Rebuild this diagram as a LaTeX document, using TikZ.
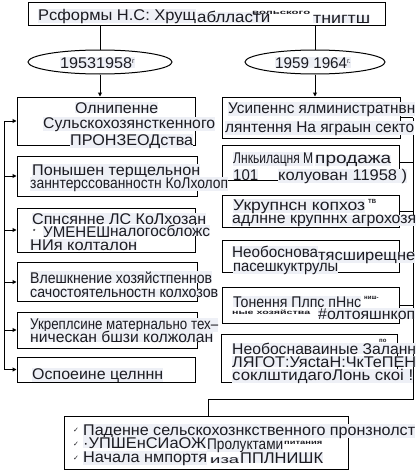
\documentclass[tikz,border=0pt]{standalone}
\usepackage{fontspec}
\setmainfont{Liberation Sans}
\newfontfamily\symfont{DejaVu Sans}
\usetikzlibrary{arrows.meta,shapes.geometric}
\definecolor{ink}{RGB}{28,28,34}
\definecolor{shade}{RGB}{238,240,246}
\newcommand{\fw}[2]{\resizebox{#1pt}{\height}{#2}}

\begin{document}
\begin{tikzpicture}[x=1pt,y=-1pt,
		box/.style={draw,line width=1pt,inner sep=0pt},
		oval/.style={draw,ellipse,line width=1pt,inner sep=0pt},
		ln/.style={fill=shade,text=ink,inner sep=0pt,anchor=base west,font=\fontsize{15.5}{15.5}\selectfont},
		tiny/.style={text=ink,inner sep=0pt,anchor=base west,font=\fontsize{6}{6}\selectfont\bfseries},
		chk/.style={text=ink,inner sep=0pt,anchor=base west,font=\symfont\fontsize{7}{7}\selectfont},
		link/.style={line width=1pt},
		arr/.style={line width=1pt,-{Triangle[open,length=4pt,width=4pt]}}]
	\useasboundingbox (0,0) rectangle (418,471);
	\node[box,minimum width=357,minimum height=23] (title) at (206.5,13.5) {};
	\node[oval,minimum width=144,minimum height=24] (e1) at (100,62) {};
	\node[oval,minimum width=140,minimum height=24] (e2) at (315,62) {};
	\node[box,minimum width=178,minimum height=48] (l1) at (106,121) {};
	\node[box,minimum width=180,minimum height=40] (l2) at (107,176) {};
	\node[box,minimum width=178,minimum height=44] (l3) at (106,230) {};
	\node[box,minimum width=180,minimum height=39] (l4) at (107,282) {};
	\node[box,minimum width=180,minimum height=36] (l5) at (107,330) {};
	\node[box,minimum width=178,minimum height=25] (l6) at (106,369.5) {};
	\node[box,minimum width=178,minimum height=41] (r1) at (311,117.5) {};
	\node[box,minimum width=177,minimum height=35] (r2) at (310.5,162.5) {};
	\node[box,minimum width=177,minimum height=32] (r3) at (310.5,211) {};
	\node[box,minimum width=177,minimum height=32] (r4) at (310.5,256) {};
	\node[box,minimum width=177,minimum height=36] (r5) at (310.5,305) {};
	\node[box,minimum width=176,minimum height=48] (r6) at (309,358) {};
	\node[box,minimum width=284,minimum height=53] (res) at (206,442.5) {};
	\coordinate (ltop) at (4,121);
	\coordinate (lbot) at (4,369.5);
	\coordinate (rtop) at (413,117.5);
	\coordinate (rturn) at (413,399);
	\coordinate (rbend) at (208,399);
	\draw[link] (e1.north |- title.south) -- (e1.north);
	\draw[link] (e2.north |- title.south) -- (e2.north);
	\draw[arr] (e1.south) -- (l1.north -| e1.south);
	\draw[arr] (e2.south) -- (r1.north -| e2.south);
	\draw[link] (ltop) -- (lbot);
	\foreach \b in {l1,l2,l3,l4,l5,l6}
		\draw[arr] (ltop |- \b.west) -- (\b.west);
	\draw[link] (rtop) -- (rturn) -- (rbend) -- (rbend |- res.north);
	\foreach \b in {r1,r2,r3,r4,r5}
		\draw[link] (\b.east) -- (rtop |- \b.east);
	\node[ln] (ta) at (38,20) {\fw{158}{Рсформы Н.С: Хрущ}};
	\node[ln] (tb) at (197,23) {\fw{73}{аблласти}};
	\node[tiny] (tc) at (252,14) {\fw{58}{вольского}};
	\node[ln] (td) at (313,23) {\fw{57}{тнигтш}};
	\node[ln] (ya) at (60,68) {\fw{72}{19531958}\raisebox{5pt}{\fontsize{7}{7}\selectfont г}};
	\node[ln] (yb) at (275,68) {\fw{72}{1959 1964}\raisebox{5pt}{\fontsize{7}{7}\selectfont г.}};
	\node[ln] (a1) at (75,113) {\fw{83}{Олнипенне}};
	\node[ln] (a2) at (43,128) {\fw{172}{Сульскохозянсткенного}};
	\node[ln] (a3) at (70,145) {\fw{123}{ПРОНЗЕОДства}};
	\node[ln] (b1) at (32,175) {\fw{168}{Понышен терщельнон}};
	\node[ln] (b2) at (30,188) {\fw{198}{заннтерссованностн КоЛхолоп}};
	\node[ln] (c1) at (32,224) {\fw{174}{Спнсянне ЛС КоЛхозан}};
	\node[tiny] (c2) at (33,233) {*};
	\node[ln] (c3) at (43,237) {\fw{67}{УМЕНЕШ}};
	\node[ln] (c4) at (110,236) {\fw{100}{налогосбложс}};
	\node[ln] (c5) at (30,250) {\fw{107}{НИя колталон}};
	\node[ln] (d1) at (30,283) {\fw{182}{Влешкнение хозяйстпеннов}};
	\node[ln] (d2) at (30,297) {\fw{188}{сачостоятельностн колхозов}};
	\node[ln] (f1) at (30,329) {\fw{188}{Укреплсине матернально тех–}};
	\node[ln] (f2) at (30,342) {\fw{183}{ническан бшзи колжолан}};
	\node[ln] (g1) at (32,379) {\fw{131}{Оспоеине целннн}};
	\node[ln] (h1) at (228,113) {\fw{187}{Усипеннс ялминистратнвн}};
	\node[ln] (h2) at (225,132) {\fw{189}{лянтення На яграын секто}};
	\node[ln] (i1) at (233,163) {\fw{80}{Лнкьилацня М}};
	\node[ln] (i2) at (315,163) {\fw{76}{продажа}};
	\node[ln] (i3) at (233,180) {\fw{25}{101}};
	\node[ln] (i4) at (278,180) {\fw{129}{колуован 11958 )}};
	\node[ln] (j1) at (233,210) {\fw{132}{Укрупнсн копхоз}};
	\node[tiny] (j2) at (368,203) {ТВ};
	\node[ln] (j3) at (232,223) {\fw{184}{адлнне крупннх агрохозя}};
	\node[ln] (k1) at (232,257) {\fw{86}{Необоснова}};
	\node[ln] (k2) at (318,260) {\fw{97}{тясширещне}};
	\node[ln] (k3) at (233,271) {\fw{105}{пасешкуктрулы}};
	\node[ln] (m1) at (233,307) {\fw{128}{Тонення Плпс пНнс}};
	\node[tiny] (m2) at (364,299) {ниш-};
	\node[tiny] (m3) at (232,314) {\fw{78}{ные хозяйства}};
	\node[ln] (m4) at (318,319) {\fw{97}{\#олтояшнкоп}};
	\node[ln] (n1) at (232,354) {\fw{184}{Необоснаваиные Заланн}};
	\node[tiny] (n2) at (379,342) {по};
	\node[ln] (n3) at (232,367) {\fw{184}{ЛЯГОТ:УясtаН:ЧкТеПЕН}};
	\node[ln] (n4) at (232,380) {\fw{181}{соклштидагоЛонь скоі !}};
	\node[chk] (q1) at (73,432) {✓};
	\node[chk] (q2) at (73,446) {✓};
	\node[chk] (q3) at (73,460) {✓};
	\node[ln] (p1) at (83,435) {\fw{332}{Паденне сельскохознкственного пронзнолст}};
	\node[ln] (p2) at (83,448) {\fw{123}{·УПШЕнСИаОЖ}};
	\node[ln] (p3) at (207,449) {\fw{76}{Пролуктами}};
	\node[tiny] (p4) at (284,444) {\fw{38}{питания}};
	\node[ln] (p5) at (83,462) {\fw{124}{Начала нмпортя}};
	\node[ln,font=\fontsize{11}{11}\selectfont] (p6) at (210,463) {\fw{29}{иза}};
	\node[ln] (p7) at (240,463) {\fw{83}{ППЛНИШК}};
\end{tikzpicture}
\end{document}
